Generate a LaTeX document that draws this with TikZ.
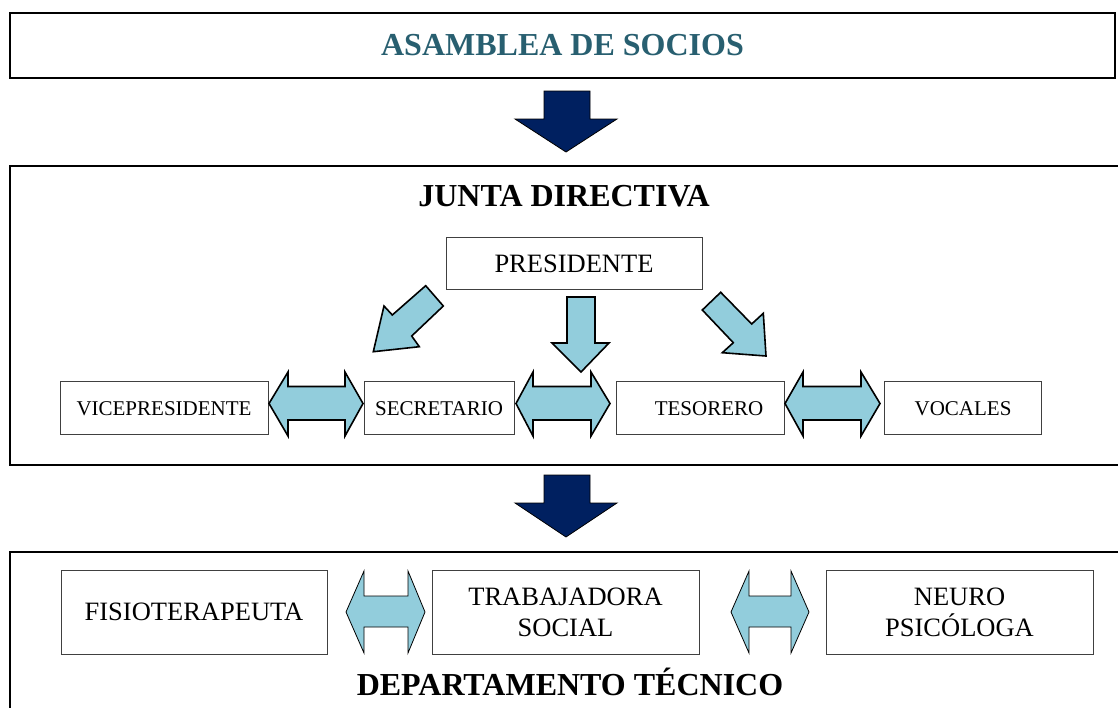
\documentclass[tikz,border=0pt]{standalone}
\usepackage{fontspec}
\setmainfont{Liberation Serif}
\definecolor{navy}{HTML}{002060}
\definecolor{aqua}{HTML}{92CDDC}
\definecolor{teal2}{RGB}{40,95,112}
\tikzset{
  outerbox/.style={draw=black, line width=2pt, inner sep=0pt, outer sep=0pt},
  innerbox/.style={draw=black!75, line width=0.9pt, inner sep=0pt, outer sep=0pt, font=\fontsize{21}{25}\selectfont},
  lowbox/.style={draw=black!75, line width=0.9pt, inner sep=0pt, outer sep=0pt, align=center, font=\fontsize{26.5}{31}\selectfont},
  bigtitle/.style={inner sep=0pt, font=\fontsize{32}{38}\selectfont\bfseries},
  darkarrow/.style={fill=navy, draw=black, line width=0.8pt, line join=miter},
  lightarrow/.style={fill=aqua, draw=black, line width=1.6pt, line join=miter},
  lightarrowthin/.style={fill=aqua, draw=black, line width=0.8pt, line join=miter},
}
\begin{document}
\begin{tikzpicture}[x=1pt, y=-1pt]
\clip (0,0) rectangle (1118,707);
\fill[white] (0,0) rectangle (1118,707);

% outer boxes
\node[outerbox, minimum width=1105, minimum height=65, font=\fontsize{32}{38}\selectfont\bfseries, text=teal2] (asamblea) at (562.5,45.5) {ASAMBLEA DE SOCIOS};
\node[outerbox, minimum width=1120, minimum height=299] (junta) at (570,315.5) {};
\node[outerbox, minimum width=1120, minimum height=180] (depto) at (570,642) {};

% dark arrows
\draw[darkarrow] (544,91) -- (590,91) -- (590,119) -- (617,119) -- (566,152) -- (515,119) -- (544,119) -- cycle;
\draw[darkarrow] (544,475) -- (590,475) -- (590,503) -- (617,503) -- (566,537) -- (515,503) -- (544,503) -- cycle;

% junta directiva
\node[bigtitle, anchor=base] (juntatitle) at (564,206.5) {JUNTA DIRECTIVA};
\node[innerbox, minimum width=256, minimum height=52, font=\fontsize{26.5}{31}\selectfont] (pres) at (574,263.5) {PRESIDENTE};
\node[innerbox, minimum width=208, minimum height=53] (vice) at (164,408.3) {VICEPRESIDENTE};
\node[innerbox, minimum width=150, minimum height=53] (secr) at (439,408.3) {SECRETARIO};
\node[innerbox, minimum width=168, minimum height=53] (teso) at (700,408.3) {\hspace*{18pt}TESORERO};
\node[innerbox, minimum width=157, minimum height=53] (voca) at (963,408.3) {VOCALES};

% arrows from president
\draw[lightarrow] (425.7,285.7) -- (443.3,306) -- (411.7,336) -- (419.3,346.7) -- (373.3,351.7) -- (384,306) -- (392.3,315) -- cycle;
\draw[lightarrow] (567,297) -- (595,297) -- (595,343) -- (609,343) -- (581,372) -- (552,343) -- (567,343) -- cycle;
\draw[lightarrow] (720.7,292.3) -- (751.7,324) -- (763.3,313.3) -- (766,356) -- (722.3,352.7) -- (733.3,342.7) -- (702.3,310) -- cycle;

% horizontal double arrows
\draw[lightarrow] (269,403.5) -- (288,372) -- (288,386.5) -- (345,386.5) -- (345,372) -- (363,403.5) -- (345,436) -- (345,420) -- (288,420) -- (288,436) -- cycle;
\draw[lightarrow] (516,403.5) -- (533,372) -- (533,386.5) -- (591,386.5) -- (591,372) -- (610,403.5) -- (591,436) -- (591,420) -- (533,420) -- (533,436) -- cycle;
\draw[lightarrow] (785,403.5) -- (803,372) -- (803,386.5) -- (861,386.5) -- (861,372) -- (880,403.5) -- (861,436) -- (861,420) -- (803,420) -- (803,436) -- cycle;

% departamento tecnico
\node[lowbox, minimum width=266, minimum height=84] (fisio) at (194,612) {FISIOTERAPEUTA};
\node[lowbox, minimum width=267, minimum height=84] (trab) at (565.5,612) {TRABAJADORA\\SOCIAL};
\node[lowbox, minimum width=267, minimum height=84] (neuro) at (959.5,612) {NEURO\\PSICÓLOGA};
\draw[lightarrowthin] (346,612) -- (364,571) -- (364,596) -- (408,596) -- (408,571) -- (425,612) -- (408,653) -- (408,627) -- (364,627) -- (364,653) -- cycle;
\draw[lightarrowthin] (731,612) -- (749,571) -- (749,596) -- (791,596) -- (791,571) -- (809,612) -- (791,653) -- (791,627) -- (749,627) -- (749,653) -- cycle;
\node[bigtitle, anchor=base] (deptitle) at (570,695) {DEPARTAMENTO TÉCNICO};
\end{tikzpicture}
\end{document}
